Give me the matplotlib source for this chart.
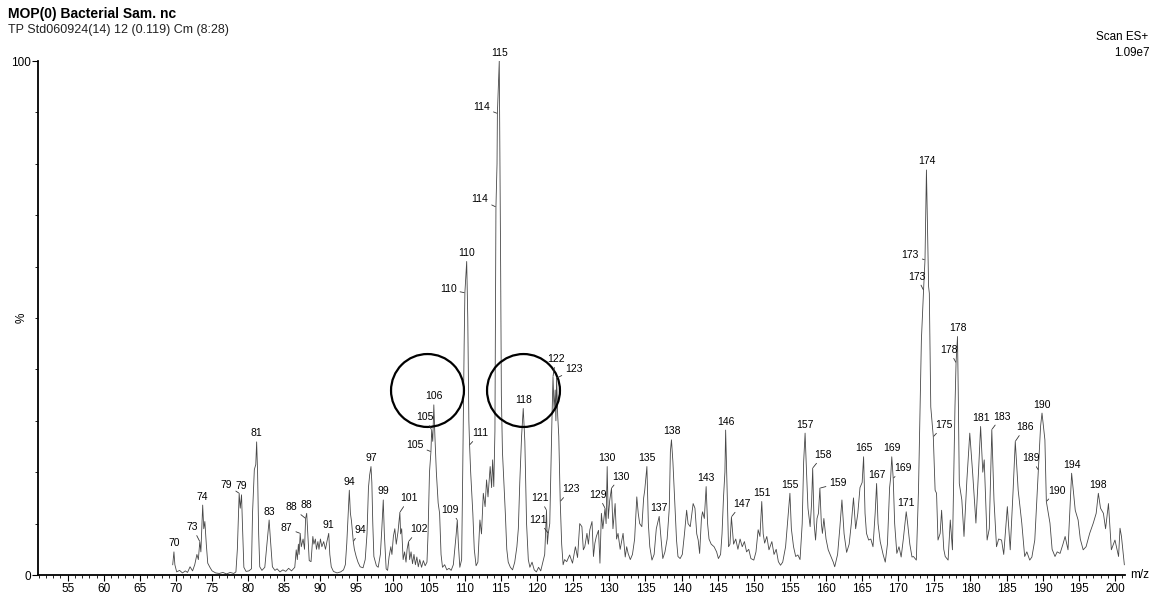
import matplotlib
matplotlib.use("Agg")
import matplotlib.pyplot as plt
from matplotlib.ticker import MultipleLocator, FixedLocator

plt.rcParams['font.family'] = ['Liberation Sans', 'DejaVu Sans']

# spectrum trace, (m/z, % of base peak), in pieces
seg_70_92 = [
    (69.55, 2.0), (69.72, 4.5), (69.85, 2.0), (70.1, 0.6), (70.5, 0.9), (70.9, 0.4),
    (71.3, 0.8), (71.6, 0.5), (71.95, 1.6), (72.3, 0.8), (72.6, 2.0), (72.9, 4.0),
    (73.1, 3.0), (73.3, 6.5), (73.45, 4.5), (73.7, 13.6), (73.85, 9.0), (74.0, 10.4),
    (74.2, 6.0), (74.4, 2.3), (74.7, 1.5), (75.0, 0.8), (75.5, 0.4), (76.0, 0.3),
    (76.5, 0.5), (77.0, 0.2), (77.5, 0.5), (78.0, 0.3), (78.3, 0.6), (78.5, 5.0),
    (78.75, 15.9), (78.9, 13.0), (79.08, 15.6), (79.2, 10.0), (79.4, 1.5), (79.7, 0.7),
    (80.1, 0.8), (80.45, 1.2), (80.6, 12.0), (80.85, 20.5), (81.05, 21.5), (81.17, 25.9),
    (81.3, 20.0), (81.45, 8.0), (81.6, 1.6), (81.9, 0.9), (82.3, 1.5), (82.6, 6.0),
    (82.9, 10.7), (83.05, 7.5), (83.35, 1.6), (83.7, 0.9), (84.0, 1.2), (84.4, 0.6),
    (84.8, 1.0), (85.2, 0.7), (85.6, 1.3), (86.0, 0.8), (86.45, 1.5), (86.65, 4.9),
    (86.8, 3.0), (86.95, 6.0), (87.05, 4.0), (87.2, 8.1), (87.35, 5.5), (87.6, 7.0),
    (87.8, 5.0), (87.95, 11.0), (88.1, 12.0), (88.25, 8.0), (88.45, 2.8), (88.7, 2.6),
    (88.95, 7.5), (89.1, 6.0), (89.3, 7.0), (89.45, 5.0), (89.65, 6.5), (89.8, 5.0),
    (90.0, 7.0), (90.2, 5.5), (90.45, 6.5), (90.7, 5.0), (90.9, 6.5), (91.15, 8.1),
    (91.3, 4.0), (91.5, 1.6), (91.8, 0.7),
]
seg_92_111 = [
    (92.3, 0.4), (92.8, 0.6), (93.2, 1.0), (93.45, 2.0), (93.65, 6.2), (93.85, 12.0),
    (94.0, 16.5), (94.15, 12.0), (94.3, 10.5), (94.55, 6.5), (94.7, 5.0), (94.95, 3.6),
    (95.2, 2.5), (95.5, 1.6), (95.9, 1.4), (96.2, 3.0), (96.45, 8.0), (96.65, 17.0),
    (96.82, 19.5), (97.0, 21.1), (97.12, 18.0), (97.25, 10.0), (97.4, 3.6), (97.75, 1.8),
    (98.0, 1.5), (98.3, 4.0), (98.5, 9.0), (98.7, 14.6), (98.85, 8.0), (99.1, 1.2),
    (99.3, 0.9), (99.5, 3.5), (99.75, 5.5), (99.9, 4.0), (100.1, 7.5), (100.3, 9.0),
    (100.5, 6.0), (100.75, 8.5), (101.0, 12.2), (101.1, 8.0), (101.25, 9.0), (101.45, 3.0),
    (101.65, 4.5), (101.85, 2.5), (102.0, 5.0), (102.2, 6.5), (102.35, 3.0), (102.55, 4.5),
    (102.75, 2.2), (102.95, 4.0), (103.15, 2.0), (103.35, 3.5), (103.55, 1.6), (103.75, 3.0),
    (104.0, 1.5), (104.25, 2.8), (104.5, 1.8), (104.75, 2.5), (104.9, 8.0), (105.1, 20.0),
    (105.3, 24.0), (105.4, 28.2), (105.55, 26.0), (105.7, 33.1), (105.85, 27.0), (106.05, 20.0),
    (106.3, 14.0), (106.5, 12.0), (106.7, 4.0), (106.9, 1.5), (107.2, 2.0), (107.5, 1.0),
    (107.8, 1.3), (108.1, 0.9), (108.4, 2.0), (108.6, 5.0), (108.8, 8.0), (108.95, 10.7),
    (109.1, 6.0), (109.3, 1.5), (109.55, 3.0), (109.7, 20.0), (109.9, 45.0), (110.0, 54.9),
    (110.25, 61.0), (110.4, 50.0), (110.55, 30.0), (110.65, 25.3), (110.8, 20.0),
]
seg_111_126 = [
    (111.1, 12.0), (111.3, 5.0), (111.55, 1.8), (111.8, 2.5), (112.08, 10.7), (112.3, 8.0),
    (112.55, 15.9), (112.8, 13.3), (113.0, 18.5), (113.2, 15.2), (113.5, 21.1), (113.7, 17.0),
    (113.84, 22.4), (114.0, 17.2), (114.16, 28.0), (114.3, 71.6), (114.45, 80.0), (114.5, 89.8),
    (114.76, 100.0), (114.95, 60.0), (115.05, 35.0), (115.2, 24.0), (115.4, 18.0), (115.6, 12.0),
    (115.8, 5.0), (116.0, 2.5), (116.3, 1.5), (116.6, 1.0), (116.9, 2.5), (117.2, 5.5),
    (117.4, 9.0), (117.6, 18.0), (117.85, 27.0), (118.08, 32.4), (118.3, 26.0), (118.54, 10.0),
    (118.78, 3.0), (119.0, 1.5), (119.3, 2.5), (119.6, 1.0), (119.9, 0.6), (120.2, 1.5),
    (120.5, 0.8), (120.8, 2.5), (121.05, 4.0), (121.3, 12.6), (121.42, 6.0), (121.55, 8.1),
    (121.75, 10.0), (121.9, 20.0), (122.05, 30.0), (122.2, 38.6), (122.35, 32.0), (122.5, 36.0),
    (122.6, 30.0), (122.7, 38.3), (122.85, 31.0), (123.0, 27.0), (123.2, 14.3), (123.4, 6.0),
    (123.6, 2.0), (123.8, 3.0), (124.1, 2.6), (124.5, 3.9), (124.9, 2.3), (125.3, 5.5),
    (125.6, 3.4), (125.9, 10.0),
]
seg_126_150 = [
    (126.2, 9.4), (126.4, 4.9), (126.6, 5.5), (126.9, 8.1), (127.1, 6.0), (127.3, 8.8),
    (127.6, 10.4), (127.8, 3.6), (128.0, 6.2), (128.2, 7.5), (128.5, 8.7), (128.7, 2.3),
    (128.9, 12.0), (129.1, 9.0), (129.4, 13.0), (129.55, 10.0), (129.7, 21.1), (129.85, 11.0),
    (130.05, 14.5), (130.3, 16.9), (130.5, 9.0), (130.8, 13.9), (131.0, 7.0), (131.2, 8.1),
    (131.5, 5.0), (131.7, 6.5), (131.9, 8.1), (132.2, 3.5), (132.4, 5.5), (132.6, 4.2),
    (132.9, 3.0), (133.2, 4.0), (133.5, 7.0), (133.8, 15.2), (134.0, 12.0), (134.2, 10.0),
    (134.5, 9.4), (134.75, 15.0), (134.9, 16.5), (135.2, 21.1), (135.4, 10.0), (135.6, 5.5),
    (135.9, 2.9), (136.2, 4.0), (136.5, 9.0), (136.9, 11.4), (137.1, 8.0), (137.4, 3.2),
    (137.7, 4.5), (138.0, 7.0), (138.3, 13.0), (138.45, 24.0), (138.6, 26.3), (138.8, 22.0),
    (139.0, 16.0), (139.1, 13.3), (139.3, 6.8), (139.5, 3.6), (139.8, 3.2), (140.1, 4.0),
    (140.4, 8.0), (140.7, 12.6), (140.9, 10.0), (141.2, 9.4), (141.6, 13.9), (141.85, 13.0),
    (142.1, 8.0), (142.3, 6.8), (142.5, 4.2), (142.75, 11.0), (142.9, 12.3), (143.15, 11.0),
    (143.4, 17.2), (143.6, 10.0), (143.8, 7.0), (144.1, 6.0), (144.5, 5.5), (144.85, 4.5),
    (145.1, 3.2), (145.4, 4.0), (145.6, 8.0), (145.8, 15.0), (146.0, 20.0), (146.1, 28.2),
    (146.3, 16.5), (146.5, 5.5), (146.7, 6.0), (146.9, 11.3), (147.2, 6.0), (147.5, 7.0),
    (147.8, 5.0), (148.1, 7.0), (148.4, 5.5), (148.7, 6.5), (149.0, 4.5), (149.3, 5.0),
    (149.6, 3.2), (150.0, 2.9),
]
seg_150_173 = [
    (150.3, 4.5), (150.6, 8.8), (150.85, 7.5), (151.1, 14.3), (151.3, 8.0), (151.5, 6.2),
    (151.8, 7.5), (152.1, 4.9), (152.5, 6.5), (152.8, 4.0), (153.1, 5.0), (153.4, 2.6),
    (153.7, 1.9), (154.0, 2.5), (154.4, 5.5), (154.7, 10.7), (155.0, 15.9), (155.2, 9.0),
    (155.5, 5.5), (155.8, 3.6), (156.1, 3.9), (156.4, 3.0), (156.7, 10.0), (156.9, 22.0),
    (157.1, 27.6), (157.3, 20.0), (157.5, 13.0), (157.8, 9.4), (158.0, 14.0), (158.15, 20.8),
    (158.35, 10.0), (158.55, 6.8), (158.75, 11.0), (158.95, 12.0), (159.15, 16.9), (159.35, 10.0),
    (159.5, 8.1), (159.7, 11.0), (160.0, 7.0), (160.3, 4.9), (160.7, 3.5), (161.0, 2.5),
    (161.2, 1.6), (161.6, 4.0), (161.9, 9.0), (162.2, 14.6), (162.5, 8.0), (162.85, 4.4),
    (163.2, 6.0), (163.5, 10.0), (163.8, 15.0), (164.1, 9.0), (164.4, 12.0), (164.7, 17.0),
    (165.0, 18.0), (165.2, 23.0), (165.4, 12.0), (165.6, 8.1), (165.9, 6.8), (166.2, 7.0),
    (166.5, 5.5), (166.8, 12.0), (167.0, 17.8), (167.2, 10.0), (167.5, 6.5), (167.9, 4.0),
    (168.2, 2.5), (168.5, 6.0), (168.8, 17.0), (168.95, 19.0), (169.1, 23.0), (169.3, 18.8),
    (169.5, 10.0), (169.8, 4.2), (170.1, 5.5), (170.4, 3.5), (170.7, 7.0), (171.1, 12.3),
    (171.3, 10.0), (171.6, 6.0), (171.9, 3.5), (172.1, 3.6), (172.5, 2.9), (172.8, 16.5),
]
seg_173_201 = [
    (173.2, 45.7), (173.5, 55.4), (173.7, 61.3), (173.9, 78.8), (174.2, 56.1), (174.3, 54.8),
    (174.5, 32.7), (174.85, 26.9), (175.1, 16.5), (175.3, 15.9), (175.5, 6.8), (175.8, 8.1),
    (176.0, 12.6), (176.3, 5.0), (176.5, 3.6), (176.9, 2.9), (177.2, 10.7), (177.5, 4.9),
    (177.85, 32.7), (178.0, 41.3), (178.2, 46.4), (178.3, 36.0), (178.45, 17.8), (178.8, 14.6),
    (179.1, 7.5), (179.5, 18.5), (179.9, 27.6), (180.3, 19.8), (180.75, 10.1), (181.1, 19.8),
    (181.4, 28.9), (181.7, 20.0), (181.9, 22.4), (182.3, 6.8), (182.6, 9.0), (182.95, 28.3),
    (183.25, 14.6), (183.6, 5.5), (183.9, 7.0), (184.3, 6.8), (184.6, 4.0), (185.1, 13.3),
    (185.5, 4.9), (185.9, 16.5), (186.2, 26.0), (186.6, 16.5), (187.1, 10.1), (187.5, 3.6),
    (187.8, 4.5), (188.2, 2.9), (188.5, 3.5), (188.9, 6.8), (189.4, 20.4), (189.7, 28.9),
    (189.9, 31.5), (190.3, 26.3), (190.5, 14.3), (191.0, 10.1), (191.3, 5.0), (191.7, 3.6),
    (192.0, 4.5), (192.4, 4.2), (192.8, 6.0), (193.1, 7.5), (193.5, 4.9), (194.0, 19.8),
    (194.5, 12.6), (194.9, 10.7), (195.2, 7.0), (195.6, 4.9), (196.0, 5.5), (196.5, 8.1),
    (197.0, 10.1), (197.4, 12.0), (197.7, 15.9), (198.0, 13.0), (198.4, 12.0), (198.7, 9.0),
    (199.1, 13.9), (199.5, 4.9), (200.0, 6.8), (200.5, 3.6), (200.7, 9.1), (200.9, 7.5),
    (201.3, 2.0),
]

# peak labels: text, m/z, %
peak_text = ["70", "74", "79", "81", "83", "88", "91", "94", "97", "99", "106", "110",
             "115", "118", "130", "135", "137", "138", "143", "146", "151", "155", "157",
             "165", "167", "169", "171", "174", "178", "181", "190", "194", "198"]
peak_mz = [69.72, 73.7, 79.08, 81.17, 82.9, 88.1, 91.15, 94.0, 97.0, 98.7, 105.7, 110.25,
           114.76, 118.08, 129.7, 135.2, 136.9, 138.6, 143.4, 146.1, 151.1, 155.0, 157.1,
           165.2, 167.0, 169.1, 171.1, 173.9, 178.2, 181.4, 189.9, 194.0, 197.7]
peak_pct = [4.5, 13.6, 15.6, 25.9, 10.7, 12.0, 8.1, 16.5, 21.1, 14.6, 33.1, 61.0,
            100.0, 32.4, 21.1, 21.1, 11.4, 26.3, 17.2, 28.2, 14.3, 15.9, 27.6,
            23.0, 17.8, 23.0, 12.3, 78.8, 46.4, 28.9, 31.5, 19.8, 15.9]

# labels drawn off to one side with a leader line
lead_text = ["73", "79", "87", "88", "94", "101", "102", "105", "105", "109", "110", "111",
             "114", "114", "121", "121", "122", "123", "123", "129", "130", "147", "158",
             "159", "169", "173", "173", "175", "178", "183", "186", "189", "190"]
lead_mz = [73.3, 78.75, 87.2, 87.95, 94.55, 101.0, 102.2, 105.4, 105.3, 108.95, 110.0, 110.65,
           114.5, 114.3, 121.3, 121.55, 122.2, 122.7, 123.2, 129.4, 130.3, 146.9, 158.15,
           159.15, 169.3, 173.7, 173.5, 174.85, 178.0, 182.95, 186.2, 189.4, 190.5]
lead_pct = [6.5, 15.9, 8.1, 11.0, 6.5, 12.2, 6.5, 28.2, 24.0, 10.7, 54.9, 25.3,
            89.8, 71.6, 12.6, 8.1, 38.6, 38.3, 14.3, 13.0, 16.9, 11.3, 20.8,
            16.9, 18.8, 61.3, 55.4, 26.9, 41.3, 28.3, 26.0, 20.4, 14.3]
# text offsets in pixels (right, up)
lead_dx = [-7.3, -12.5, -13.5, -13.9, 7.4, 9.3, 10.0, -6.7, -16.0, -7.3, -16.6, 10.6,
           -15.7, -16.0, -6.5, -10.1, 2.6, 17.3, 10.4, -6.7, 9.2, 10.2, 10.5,
           18.2, 10.0, -14.8, -6.7, 10.7, -6.9, 9.7, 9.7, -7.1, 10.3]
lead_dy = [14.4, 8.3, 5.1, 11.2, 11.6, 14.0, 12.3, 12.7, 6.6, 10.0, 3.5, 11.7,
           6.1, 7.7, 11.9, 13.4, 17.6, 8.8, 12.2, 13.2, 11.4, 12.9, 13.1,
           4.8, 10.1, 4.9, 13.5, 11.7, 12.7, 12.8, 14.1, 11.8, 10.8]

# the two hand-drawn circles
circle_mz = [104.75, 118.04]
circle_pct = [36.0, 35.9]

W, H = 1151, 596
fig = plt.figure(figsize=(W / 100, H / 100), dpi=100)
ax = fig.add_axes([38 / W, 21 / H, (1125 - 38) / W, (575 - 61) / H])

trace = seg_70_92 + seg_92_111 + seg_111_126 + seg_126_150 + seg_150_173 + seg_173_201
mz = [p[0] for p in trace]
pct = [p[1] for p in trace]
ax.plot(mz, pct, color='#474747', lw=0.6)

for t, x, y in zip(peak_text, peak_mz, peak_pct):
    ax.annotate(t, (x, y), xytext=(0, 8.5), textcoords='offset pixels',
                ha='center', va='center', fontsize=7.5, annotation_clip=False)

for t, x, y, dx, dy in zip(lead_text, lead_mz, lead_pct, lead_dx, lead_dy):
    ax.annotate(t, (x, y), xytext=(dx, dy), textcoords='offset pixels',
                ha='center', va='center', fontsize=7.5, annotation_clip=False,
                arrowprops=dict(arrowstyle='-', lw=0.6, color='#333333',
                                shrinkA=0.5, shrinkB=0.5))

ax.plot(circle_mz, circle_pct, 'o', ms=52.5, mfc='none', mec='black', mew=1.6)

ax.set_xlim(50.9, 201.39)
ax.set_ylim(0, 100)
for s in ['top', 'right']:
    ax.spines[s].set_visible(False)
for s in ['left', 'bottom']:
    ax.spines[s].set_linewidth(1.3)

ax.xaxis.set_major_locator(FixedLocator(list(range(55, 201, 5))))
ax.xaxis.set_minor_locator(MultipleLocator(1))
ax.yaxis.set_major_locator(FixedLocator([0, 100]))
ax.yaxis.set_minor_locator(MultipleLocator(10))
ax.tick_params(axis='x', which='major', length=4, width=0.8, pad=2, labelsize=8.5)
ax.tick_params(axis='x', which='minor', length=2.5, width=0.6)
ax.tick_params(axis='y', which='major', length=4, width=0.8, pad=1, labelsize=8.5)
ax.tick_params(axis='y', which='minor', length=2.5, width=0.6)

fig.text(8 / W, 1 - 14 / H, "MOP(0) Bacterial Sam. nc", fontsize=10, fontweight='bold',
         ha='left', va='center')
fig.text(8 / W, 1 - 30 / H, "TP Std060924(14) 12 (0.119) Cm (8:28)", fontsize=9,
         ha='left', va='center', color='#222222')
fig.text(1148 / W, 1 - 37 / H, "Scan ES+", fontsize=8.4, ha='right', va='center')
fig.text(1150 / W, 1 - 53 / H, "1.09e7", fontsize=8.4, ha='right', va='center')
fig.text(22 / W, 1 - 318 / H, "%", fontsize=8.5, rotation=90, ha='center', va='center')
fig.text(1130 / W, 1 - 575 / H, "m/z", fontsize=8.5, ha='left', va='center')

fig.savefig("out.png", dpi=100)
